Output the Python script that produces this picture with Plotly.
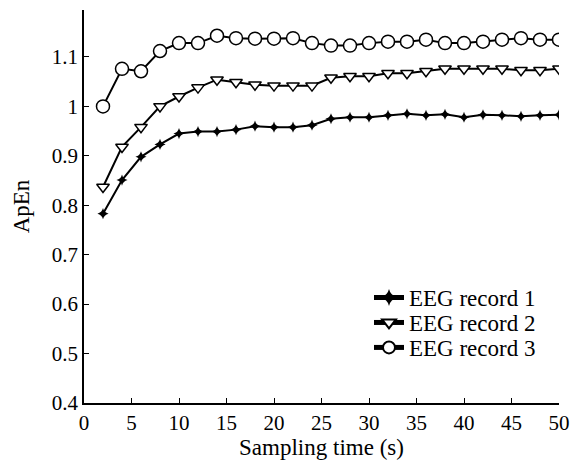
import plotly.graph_objects as go

time_s = [2, 4, 6, 8, 10, 12, 14, 16, 18, 20, 22, 24, 26, 28, 30, 32, 34, 36, 38, 40, 42, 44, 46, 48, 50]

eeg1 = [0.783, 0.851, 0.898, 0.923, 0.945, 0.949, 0.949, 0.953, 0.960, 0.958, 0.958, 0.962,
        0.975, 0.978, 0.978, 0.982, 0.985, 0.982, 0.984, 0.978, 0.983, 0.982, 0.980, 0.982, 0.983]
eeg2 = [0.837, 0.918, 0.958, 1.000, 1.020, 1.038, 1.054, 1.049, 1.044, 1.042, 1.042, 1.042,
        1.058, 1.061, 1.061, 1.067, 1.067, 1.071, 1.076, 1.076, 1.076, 1.076, 1.073, 1.073, 1.076]
eeg3 = [1.000, 1.076, 1.071, 1.112, 1.128, 1.128, 1.143, 1.138, 1.137, 1.137, 1.138, 1.128,
        1.123, 1.123, 1.128, 1.131, 1.131, 1.135, 1.128, 1.128, 1.131, 1.135, 1.138, 1.135, 1.135]

series_names = ["EEG record 1", "EEG record 2", "EEG record 3"]

x_ticks = [0, 5, 10, 15, 20, 25, 30, 35, 40, 45, 50]
y_ticks = [0.4, 0.5, 0.6, 0.7, 0.8, 0.9, 1.0, 1.1]
y_ticktext = ["0.4", "0.5", "0.6", "0.7", "0.8", "0.9", "1", "1.1"]

FONT = "Liberation Serif, Times New Roman, serif"

fig = go.Figure()
fig.add_trace(go.Scatter(
    x=time_s, y=eeg1, name=series_names[0], mode="lines+markers", legend="legend",
    line=dict(color="black", width=2),
    marker=dict(symbol="star-diamond", size=8, color="black"),
))
fig.add_trace(go.Scatter(
    x=time_s, y=eeg2, name=series_names[1], mode="lines+markers", legend="legend2",
    line=dict(color="black", width=2),
    marker=dict(symbol="triangle-down", size=11, color="white",
                line=dict(color="black", width=1.5)),
))
fig.add_trace(go.Scatter(
    x=time_s, y=eeg3, name=series_names[2], mode="lines+markers", legend="legend3",
    line=dict(color="black", width=2),
    marker=dict(symbol="circle", size=13, color="white",
                line=dict(color="black", width=1.5)),
))

leg_common = dict(x=0.60, xanchor="left", yanchor="top", bgcolor="rgba(0,0,0,0)",
                  font=dict(size=23, family=FONT, color="black"), itemsizing="constant")

# page body has an 8px margin; size the figure so the plot area lands where the reference has it
fig.update_layout(
    width=578, height=460,
    margin=dict(l=76, r=27, t=2, b=65),
    paper_bgcolor="white", plot_bgcolor="white",
    font=dict(family=FONT, size=23, color="black"),
    showlegend=True,
    legend=dict(y=0.323, **leg_common),
    legend2=dict(y=0.2595, **leg_common),
    legend3=dict(y=0.196, **leg_common),
)
fig.update_xaxes(
    range=[0, 50], tickvals=x_ticks, ticks="inside", ticklen=5, tickwidth=1,
    tickcolor="black",
    showline=True, linecolor="black", linewidth=1.5, showgrid=False, zeroline=False,
    title=dict(text="Sampling time (s)", standoff=4,
               font=dict(size=23, family=FONT, color="black")),
    tickfont=dict(size=21, family=FONT, color="black"),
    automargin=False,
)
fig.update_yaxes(
    range=[0.4, 1.195], tickvals=y_ticks, ticktext=y_ticktext, ticks="inside",
    ticklen=5, tickwidth=1, tickcolor="black",
    showline=True, linecolor="black", linewidth=1.5, showgrid=False, zeroline=False,
    title=dict(text="ApEn", standoff=16,
               font=dict(size=23, family=FONT, color="black")),
    tickfont=dict(size=21, family=FONT, color="black"),
    automargin=False,
)

fig.write_html("out.html")
